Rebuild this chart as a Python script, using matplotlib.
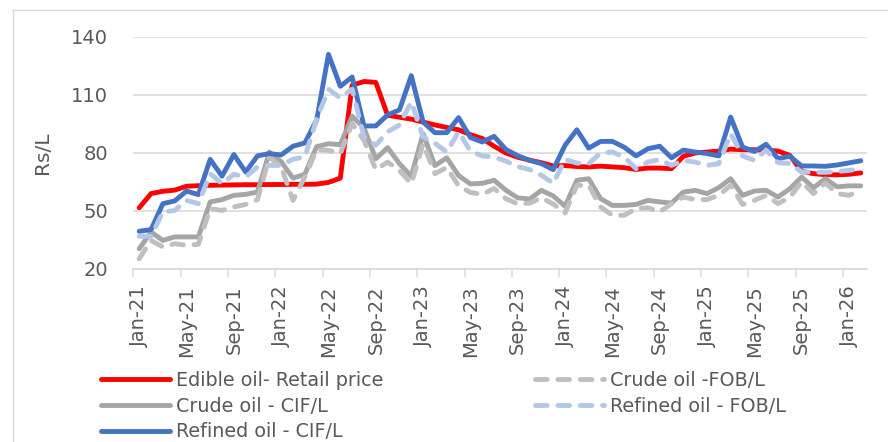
import numpy as np
import matplotlib
matplotlib.use("Agg")
from matplotlib import pyplot as plt
from matplotlib.lines import Line2D

# months Jan-21 .. Feb-26
months = ["Jan", "Feb", "Mar", "Apr", "May", "Jun", "Jul", "Aug", "Sep", "Oct", "Nov", "Dec"]
labels = ["%s-%d" % (months[i % 12], 21 + i // 12) for i in range(62)]

edible_retail = [51.7, 59.0, 60.2, 60.8, 62.8, 63.1, 63.3, 63.4, 63.5, 63.6, 63.6, 63.7,
                 63.7, 63.8, 63.8, 63.9, 64.8, 67.0, 115.0, 117.0, 116.5, 99.5, 98.5, 97.5,
                 96.0, 94.5, 93.2, 92.0, 89.5, 87.5, 83.5, 80.0, 77.8, 76.3, 75.0, 73.3,
                 73.5, 73.0, 72.8, 73.2, 72.8, 72.4, 71.5, 72.2, 72.2, 71.9, 78.3, 80.0,
                 80.5, 81.0, 82.0, 81.7, 81.7, 81.5, 81.0, 78.8, 70.5, 69.3, 68.8, 68.7,
                 69.0, 69.7]
crude_cif = [30.5, 39.1, 34.8, 36.6, 36.6, 36.6, 54.7, 55.9, 58.1, 58.6, 59.8, 80.5,
             75.5, 67.0, 69.0, 83.3, 84.8, 84.3, 99.0, 93.0, 77.0, 82.8, 74.5, 68.0,
             90.0, 73.5, 77.5, 68.3, 64.0, 64.3, 65.9, 60.7, 56.8, 56.2, 60.7, 57.8,
             52.5, 65.9, 66.7, 56.4, 52.9, 52.9, 53.4, 55.5, 54.7, 54.1, 59.8, 60.7,
             59.0, 62.1, 66.7, 58.1, 60.3, 60.7, 57.2, 61.5, 67.6, 62.0, 66.7, 62.5,
             63.0, 63.0]
crude_fob = [25.3, 34.8, 31.4, 33.1, 32.2, 32.8, 51.2, 50.3, 52.1, 53.4, 55.9, 77.9,
             72.8, 55.5, 67.6, 81.7, 81.4, 79.7, 95.2, 86.6, 71.4, 75.3, 71.0, 64.1,
             84.8, 69.3, 72.5, 63.0, 59.6, 58.6, 61.7, 56.4, 53.6, 54.1, 56.8, 53.6,
             49.0, 63.3, 63.3, 52.1, 47.8, 47.8, 51.2, 51.7, 49.5, 53.8, 57.2, 55.9,
             55.9, 58.1, 63.3, 53.4, 55.5, 58.1, 53.8, 57.2, 65.0, 59.0, 64.5, 59.0,
             58.1, 60.7]
refined_cif = [39.5, 40.4, 53.8, 55.2, 60.3, 58.5, 76.7, 68.0, 79.2, 70.2, 78.5, 79.7,
               79.0, 83.5, 85.2, 97.0, 131.0, 114.5, 119.3, 94.0, 94.0, 99.7, 102.3, 120.0,
               96.0, 90.5, 90.5, 98.3, 88.0, 85.7, 88.6, 81.8, 78.6, 76.2, 74.5, 71.4,
               84.0, 92.0, 82.5, 86.0, 86.0, 83.0, 78.5, 82.2, 83.5, 77.5, 81.5, 80.5,
               79.7, 78.5, 98.6, 83.1, 80.8, 84.5, 77.1, 78.3, 73.3, 73.3, 73.1, 73.8,
               74.9, 76.0]
refined_fob = [36.9, 36.9, 49.5, 50.3, 55.5, 53.8, 69.3, 64.1, 69.0, 67.6, 72.8, 73.6,
               73.6, 76.8, 77.9, 97.5, 113.0, 108.5, 113.0, 88.5, 84.0, 91.0, 94.5, 106.4,
               88.3, 85.0, 80.5, 91.0, 81.0, 78.5, 77.9, 75.8, 73.0, 71.4, 68.5, 64.3,
               76.6, 74.8, 74.5, 80.0, 80.5, 77.9, 71.9, 75.3, 76.6, 73.6, 76.2, 75.3,
               73.6, 74.5, 90.0, 78.5, 76.2, 81.5, 75.0, 74.6, 70.2, 70.0, 70.0, 70.4,
               71.0, 71.9]

text_col = "#595959"
grid_col = "#d9d9d9"
plt.rcParams['font.family'] = ['DejaVu Sans']

fig = plt.figure(figsize=(8.88, 4.42), dpi=100)
ax = fig.add_axes([133.3 / 888, 1 - 269 / 442, 733.4 / 888, 232 / 442])

x = np.arange(len(labels))
lw = 3.5
solid = dict(lw=lw, solid_capstyle='round', solid_joinstyle='round')
dashed = dict(lw=lw, dashes=(2.4, 2.2), dash_capstyle='round', dash_joinstyle='round')

l_red, = ax.plot(x, edible_retail, color="#FF0000", label="Edible oil- Retail price", **solid)
l_ccif, = ax.plot(x, crude_cif, color="#A5A5A5", label="Crude oil - CIF/L", **solid)
l_cfob, = ax.plot(x, crude_fob, color="#BFBFBF", label="Crude oil -FOB/L", **dashed)
l_rcif, = ax.plot(x, refined_cif, color="#4472C4", label="Refined oil - CIF/L", **solid)
l_rfob, = ax.plot(x, refined_fob, color="#B4C7E7", label="Refined oil - FOB/L", **dashed)

ax.set_xlim(-0.5, len(labels) - 0.5)
ax.set_ylim(20, 140)
ax.set_yticks([20, 50, 80, 110, 140])
ax.grid(axis='y', color=grid_col, lw=1.1)
ax.set_axisbelow(True)
for s in ['top', 'right', 'left']:
    ax.spines[s].set_visible(False)
ax.spines['bottom'].set_color(grid_col)
ax.spines['bottom'].set_linewidth(1.1)

ax.set_xticks(x[::4])
ax.set_xticklabels(labels[::4], rotation=90)
ax.set_xticks(np.arange(-0.5, len(labels) - 1, 4), minor=True)
ax.tick_params(axis='x', which='major', length=0, pad=11.5, labelsize=14, labelcolor=text_col)
ax.tick_params(axis='x', which='minor', length=5.8, width=1.1, color=grid_col)
ax.tick_params(axis='y', length=0, pad=18, labelsize=14, labelcolor=text_col)

ax.set_ylabel("Rs/L", fontsize=14.5, color=text_col)
ax.yaxis.set_label_coords((52 - 133.3) / 733.4, 0.5)

leg_kw = dict(frameon=False, fontsize=13.8, handlelength=3.6, handletextpad=0.3,
              labelspacing=0.35, borderpad=0, borderaxespad=0, loc='upper left',
              bbox_transform=fig.transFigure, labelcolor=text_col)
leg1 = fig.legend([l_red, l_ccif, l_rcif], [l.get_label() for l in [l_red, l_ccif, l_rcif]],
                  bbox_to_anchor=(101 / 888, 1 - 371 / 442), **leg_kw)
leg2 = fig.legend([l_cfob, l_rfob], [l.get_label() for l in [l_cfob, l_rfob]],
                  bbox_to_anchor=(535 / 888, 1 - 371 / 442), **leg_kw)

# chart area border (cropped at right and bottom)
fig.add_artist(Line2D([13 / 888, 1], [1 - 10 / 442] * 2, transform=fig.transFigure, color=grid_col, lw=1))
fig.add_artist(Line2D([13 / 888] * 2, [0, 1 - 10 / 442], transform=fig.transFigure, color=grid_col, lw=1))

fig.savefig("out.png", dpi=100)
